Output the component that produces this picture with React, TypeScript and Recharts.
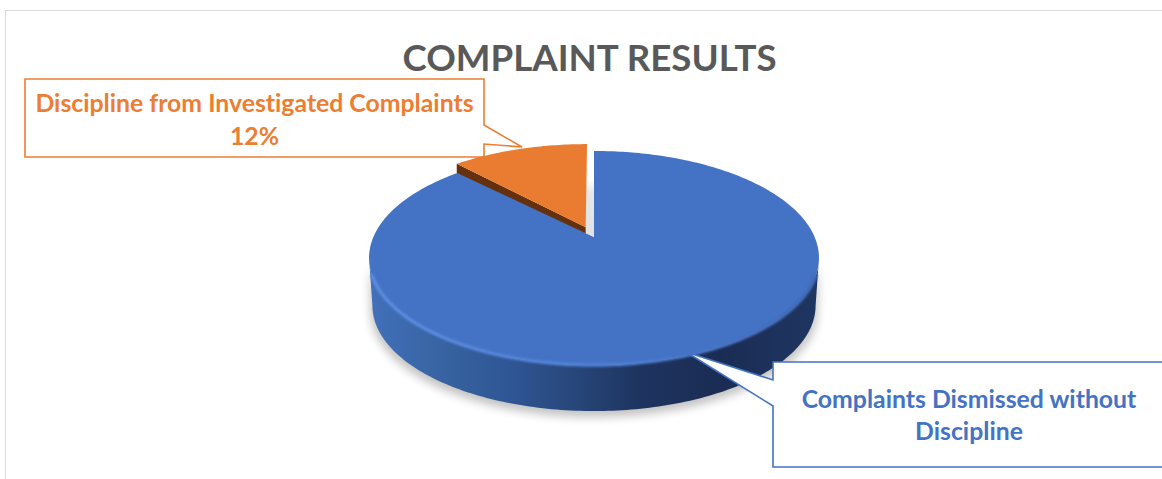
import React from "react";
import { PieChart, Pie } from "recharts";

// Values
const categories = [
  "Complaints Dismissed without Discipline",
  "Discipline from Investigated Complaints",
];
const shares = [88, 12];
const sliceColors = ["#4472C4", "#E97C30"];
const textColors = ["#4472C4", "#ED7D31"];
const blueLabelLines = ["Complaints Dismissed without", "Discipline"];

const data = categories.map((name, i) => ({ name, value: shares[i], fill: sliceColors[i] }));

const TITLE = "COMPLAINT RESULTS";
const FONT = "Lato, Carlito, sans-serif";

// 3D tilt of the pie, a perspective projection of the flat circle
const TILT = 0.196;
const SQUASH = 0.4665;
const WALL = 48;
const EXPLODE = 0.104;

type Pt = { x: number; y: number };

const project = (cx: number, cy: number, r: number, ux: number, uy: number): Pt => {
  const d = 1 - TILT * uy;
  return { x: cx + (r * ux) / d, y: cy + (r * SQUASH * uy) / d };
};

// theta: degrees clockwise from the top of the pie
const rimPoint = (cx: number, cy: number, r: number, theta: number, ox = 0, oy = 0): Pt => {
  const t = (theta * Math.PI) / 180;
  return project(cx, cy, r, Math.sin(t) + ox, -Math.cos(t) + oy);
};

const toPath = (pts: Pt[]) =>
  pts.map((p, i) => `${i ? "L" : "M"}${p.x.toFixed(2)} ${p.y.toFixed(2)}`).join(" ");

const sweep = (a: number, b: number) => {
  const steps = Math.max(2, Math.ceil(Math.abs(b - a)));
  return Array.from({ length: steps + 1 }, (_, i) => a + ((b - a) * i) / steps);
};

const BlueSlice = ({ cx, cy, r, from, to, fill }: any) => {
  const front = sweep(101.3, 258.7);
  const topEdge = front.map((t) => rimPoint(cx, cy, r, t));
  const bottomEdge = front.map((t) => {
    const p = rimPoint(cx, cy, r * 0.985, t);
    return { x: p.x, y: p.y + WALL };
  });
  const bevelEdge = sweep(110, 250).map((t) => rimPoint(cx, cy, r, t));
  const rim = sweep(from, to).map((t) => rimPoint(cx, cy, r, t));
  const apex = project(cx, cy, r, 0, 0);
  return (
    <g>
      <defs>
        <linearGradient id="wallFill" x1="0" y1="0" x2="1" y2="0">
          <stop offset="0" stopColor="#4270BA" />
          <stop offset="0.18" stopColor="#36629F" />
          <stop offset="0.32" stopColor="#2F5594" />
          <stop offset="0.46" stopColor="#274679" />
          <stop offset="0.6" stopColor="#1E3460" />
          <stop offset="0.78" stopColor="#1A2C53" />
          <stop offset="1" stopColor="#1F3662" />
        </linearGradient>
        <linearGradient id="bevel" x1="0" y1="0" x2="1" y2="0">
          <stop offset="0" stopColor="#5C8CE0" />
          <stop offset="0.55" stopColor="#4F7FD2" />
          <stop offset="1" stopColor="#3F68B4" />
        </linearGradient>
        <filter id="pieShadow" x="-10%" y="-10%" width="120%" height="130%">
          <feGaussianBlur stdDeviation="5" />
        </filter>
        <filter id="soft" x="-5%" y="-5%" width="110%" height="120%">
          <feGaussianBlur stdDeviation="0.9" />
        </filter>
      </defs>
      <path
        d={toPath(
          bottomEdge.map((p) => ({ x: cx + (p.x - cx) * 1.008, y: p.y + 6 }))
        ) + " " + toPath(topEdge.slice().reverse()).replace("M", "L") + " Z"}
        fill="#000"
        opacity={0.24}
        filter="url(#pieShadow)"
      />
      <path
        d={toPath(topEdge) + " " + toPath(bottomEdge.slice().reverse()).replace("M", "L") + " Z"}
        fill="url(#wallFill)"
      />
      <path d={toPath([apex, ...rim]) + " Z"} fill={fill} />
      <path
        d={toPath(bevelEdge)}
        fill="none"
        stroke="url(#bevel)"
        strokeWidth={3.5}
        filter="url(#soft)"
      />
    </g>
  );
};

const OrangeSlice = ({ cx, cy, r, from, to, fill }: any) => {
  const mid = (((from + to) / 2) * Math.PI) / 180;
  const ox = Math.sin(mid) * EXPLODE;
  const oy = -Math.cos(mid) * EXPLODE;
  const rim = sweep(from, to).map((t) => rimPoint(cx, cy, r, t, ox, oy));
  const apex = project(cx, cy, r, ox, oy);
  const blueApex = project(cx, cy, r, 0, 0);
  const corner = rim[0];
  const brown = [corner, apex, { x: apex.x, y: apex.y + 6 }, { x: corner.x, y: corner.y + 9 }];
  const gap = [
    { x: apex.x, y: blueApex.y - 58 },
    { x: blueApex.x, y: blueApex.y - 58 },
    blueApex,
    { x: apex.x, y: apex.y + 6 },
  ];
  return (
    <g>
      <defs>
        <linearGradient id="gapFill" x1="0" y1="0" x2="0" y2="1">
          <stop offset="0" stopColor="#FFFFFF" />
          <stop offset="0.25" stopColor="#E6E6E6" />
          <stop offset="1" stopColor="#E2E2E2" />
        </linearGradient>
      </defs>
      <path d={toPath(gap) + " Z"} fill="url(#gapFill)" />
      <path d={toPath(brown) + " Z"} fill="#64300D" />
      <path d={toPath([apex, ...rim]) + " Z"} fill={fill} />
    </g>
  );
};

// Recharts hands over its own angles, turned here into clockwise-from-top degrees
const renderSlice = (props: any) => {
  const { cx, cy, outerRadius, startAngle, endAngle, fill, index } = props;
  const from = 90 - startAngle;
  const to = 90 - endAngle;
  const Slice = index === 0 ? BlueSlice : OrangeSlice;
  return <Slice cx={cx} cy={cy} r={outerRadius} from={from} to={to} fill={fill} />;
};

const labelStyle: React.CSSProperties = {
  fontFamily: FONT,
  fontWeight: 700,
  fontSize: 24.8,
  fontVariantLigatures: "none",
};

// Pie labels sit above the slices, so the blue callout can cover the pie wall
const renderCallout = (props: any) => {
  if (props.index !== 0) return <g />;
  return (
    <g>
      <path
        d="M773 362 H1175 V467 H773 V406 L686 352 L773 380 Z"
        fill="#fff"
        stroke={textColors[0]}
        strokeWidth={1.6}
      />
      {blueLabelLines.map((line, i) => (
        <text key={line} x={969} y={408 + i * 32} textAnchor="middle" fill={textColors[0]} style={labelStyle}>
          {line}
        </text>
      ))}
    </g>
  );
};

const App = () => {
  return (
    <div
      style={{
        position: "absolute",
        left: 0,
        top: 0,
        width: 1162,
        height: 479,
        overflow: "hidden",
        background: "#fff",
      }}
    >
      <div
        style={{
          position: "absolute",
          left: 5,
          top: 9.5,
          width: 1300,
          height: 600,
          border: "1.5px solid #D9D9D9",
          boxSizing: "border-box",
        }}
      />
      <div style={{ position: "absolute", left: 0, top: 0 }}>
        <PieChart width={1162} height={479} margin={{ top: 0, right: 0, bottom: 0, left: 0 }}>
          <text
            x={589.5}
            y={71}
            textAnchor="middle"
            fill="#595959"
            style={{ fontFamily: FONT, fontWeight: 700, fontSize: 36.7 }}
          >
            {TITLE}
          </text>
          <path
            d="M25 79 H484 V125 L522 147 L484 144 V157 H25 Z"
            fill="#fff"
            stroke={textColors[1]}
            strokeWidth={1.6}
          />
          <text x={254.5} y={112} textAnchor="middle" fill={textColors[1]} style={labelStyle}>
            {categories[1]}
          </text>
          <text x={254.5} y={145} textAnchor="middle" fill={textColors[1]} style={labelStyle}>
            {shares[1]}%
          </text>
          <Pie
            data={data}
            dataKey="value"
            nameKey="name"
            cx={594}
            cy={237}
            outerRadius={220.6}
            startAngle={90}
            endAngle={-270}
            stroke="none"
            shape={renderSlice}
            label={renderCallout}
            labelLine={false}
            isAnimationActive={false}
          />
        </PieChart>
      </div>
    </div>
  );
};

export default App;
